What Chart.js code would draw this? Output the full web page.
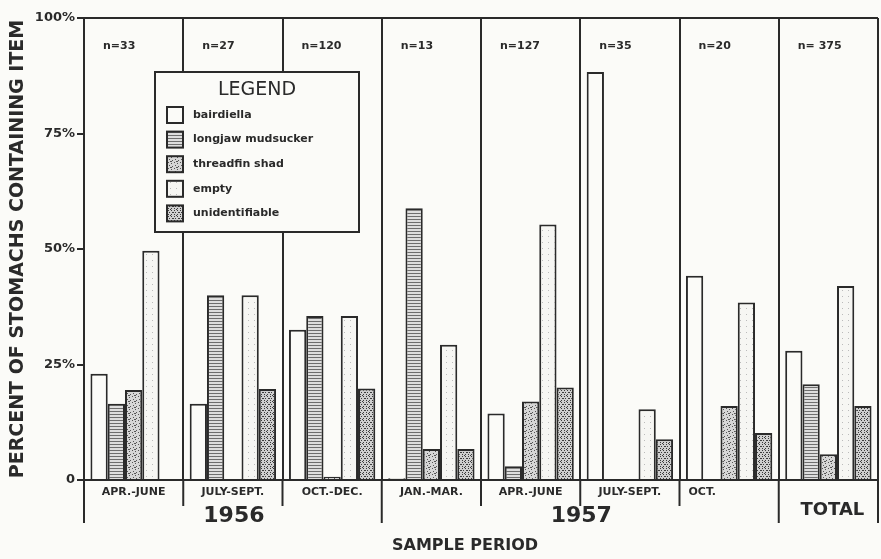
<!DOCTYPE html>
<html>
<head>
<meta charset="utf-8">
<script src="https://cdn.jsdelivr.net/npm/chart.js@4.4.1/dist/chart.umd.min.js"></script>
<style>
  body { margin: 0; background: #fbfbf8; }
  #wrap { width: 881px; height: 559px; }
</style>
</head>
<body>
<div id="wrap"><canvas id="barChart"></canvas></div>
<script>
// Sample periods and stomach counts
const periods = ['APR.-JUNE', 'JULY-SEPT.', 'OCT.-DEC.', 'JAN.-MAR.', 'APR.-JUNE', 'JULY-SEPT.', 'OCT.', ''];
const sampleSizes = ['n=33', 'n=27', 'n=120', 'n=13', 'n=127', 'n=35', 'n=20', 'n= 375'];
const yearLabels = ['1956', '1957', 'TOTAL'];
const yearSpans = [[0, 2], [3, 6], [7, 7]];
const yTicks = [0, 25, 50, 75, 100];

// Percent of stomachs containing each item
const bairdiella = [23, 16.5, 32.5, 0.4, 14.4, 88.3, 44.2, 28];
const longjaw = [16.5, 40, 35.5, 58.8, 3, 0, 0, 20.7];
const threadfin = [19.5, 0, 0.7, 6.7, 17, 0, 16, 5.6];
const empty = [49.6, 40, 35.5, 29.3, 55.3, 15.3, 38.4, 42];
const unidentifiable = [0, 19.7, 19.8, 6.7, 20, 8.8, 10.2, 16];

const ink = '#2a2a2a';
const face = 'DejaVu Sans';

const barctx = document.getElementById('barChart');
const g2d = barctx.getContext('2d');

// small repeating fills to imitate the printed hatching
function makePattern(bg, fg, cells) {
    const c = document.createElement('canvas');
    c.width = 6; c.height = 6;
    const g = c.getContext('2d');
    g.fillStyle = bg;
    g.fillRect(0, 0, 6, 6);
    g.fillStyle = fg;
    cells.forEach(([px, py, w, h]) => g.fillRect(px, py, w || 1, h || 1));
    return g2d.createPattern(c, 'repeat');
}

const fills = {
    bairdiella: '#fbfbf8',
    longjaw: makePattern('#dedede', '#6e6e6e', [[0, 0, 6, 1], [0, 3, 6, 1]]),
    threadfin: makePattern('#d6d6d6', '#555', [[0, 0], [3, 1], [1, 3], [4, 4], [2, 5, 2, 1]]),
    empty: makePattern('#f6f6f3', '#bbb', [[2, 2]]),
    unidentifiable: makePattern('#cfcfcf', '#3c3c3c', [[0, 0], [3, 0], [1, 2], [4, 2, 2, 1], [0, 4], [3, 4], [2, 5]])
};

const series = [
    { label: 'bairdiella', data: bairdiella, backgroundColor: fills.bairdiella },
    { label: 'longjaw mudsucker', data: longjaw, backgroundColor: fills.longjaw },
    { label: 'threadfin shad', data: threadfin, backgroundColor: fills.threadfin },
    { label: 'empty', data: empty, backgroundColor: fills.empty },
    { label: 'unidentifiable', data: unidentifiable, backgroundColor: fills.unidentifiable }
];

// labels, dividers and the boxed legend drawn around the plot
const decorations = {
    id: 'decorations',
    afterDatasetsDraw(chart) {
        const { ctx, chartArea: a, scales: { x } } = chart;
        const step = x.getPixelForValue(1) - x.getPixelForValue(0);
        const edge = i => x.getPixelForValue(i) - step / 2;
        ctx.save();
        ctx.strokeStyle = ink;
        ctx.fillStyle = ink;
        ctx.lineWidth = 2;

        // top frame line
        ctx.beginPath();
        ctx.moveTo(a.left, a.top);
        ctx.lineTo(a.right, a.top);
        ctx.stroke();

        // dividers continued below the baseline
        const yearEdges = [0, 3, 7, 8];
        for (let i = 0; i <= periods.length; i++) {
            const long = yearEdges.includes(i);
            ctx.beginPath();
            ctx.moveTo(edge(i), a.bottom);
            ctx.lineTo(edge(i), a.bottom + (long ? 43 : 26));
            ctx.stroke();
        }

        // period names
        ctx.font = 'bold 11px "' + face + '"';
        ctx.textBaseline = 'middle';
        periods.forEach((p, i) => {
            if (p.length < 5) {
                ctx.textAlign = 'left';
                ctx.fillText(p, edge(i) + 9, a.bottom + 12);
            } else {
                ctx.textAlign = 'center';
                ctx.fillText(p, x.getPixelForValue(i), a.bottom + 12);
            }
        });

        // sample sizes
        ctx.textAlign = 'left';
        sampleSizes.forEach((n, i) => ctx.fillText(n, edge(i) + 19, a.top + 28));

        // years and total
        ctx.textAlign = 'center';
        yearLabels.forEach((t, k) => {
            const [s, e] = yearSpans[k];
            const cx = (edge(s) + edge(e + 1)) / 2;
            const isTotal = t === 'TOTAL';
            ctx.font = 'bold ' + (isTotal ? 18 : 22) + 'px "' + face + '"';
            ctx.fillText(t, cx + (isTotal ? 4 : 1), a.bottom + (isTotal ? 30 : 36));
        });

        ctx.font = 'bold 16px "' + face + '"';
        ctx.fillText('SAMPLE PERIOD', a.left + 381, a.bottom + 66);

        // legend box
        const lx = a.left + 71, ly = a.top + 54, lw = 204, lh = 160;
        ctx.fillStyle = '#fbfbf8';
        ctx.fillRect(lx, ly, lw, lh);
        ctx.strokeRect(lx, ly, lw, lh);
        ctx.fillStyle = ink;
        ctx.font = '19px "' + face + '"';
        ctx.textAlign = 'center';
        ctx.fillText('LEGEND', lx + 102, ly + 18);
        ctx.font = 'bold 11px "' + face + '"';
        ctx.textAlign = 'left';
        chart.data.datasets.forEach((ds, i) => {
            const ry = ly + 43 + i * 24.6;
            ctx.fillStyle = ds.backgroundColor;
            ctx.fillRect(lx + 12, ry - 8, 16, 16);
            ctx.strokeRect(lx + 12, ry - 8, 16, 16);
            ctx.fillStyle = ink;
            ctx.fillText(ds.label, lx + 38, ry);
        });
        ctx.restore();
    }
};

new Chart(barctx, {
    type: 'bar',
    data: {
        labels: periods,
        datasets: series.map(s => ({
            ...s,
            borderColor: ink,
            borderWidth: 2,
            borderSkipped: 'bottom',
            categoryPercentage: 0.87,
            barPercentage: 1.0
        }))
    },
    options: {
        responsive: true,
        maintainAspectRatio: false,
        animation: false,
        layout: { padding: { top: 18, right: 3, left: 0, bottom: 0 } },
        plugins: {
            legend: { display: false },
            tooltip: { enabled: false }
        },
        scales: {
            x: {
                afterFit(s) { s.height = 79; },
                ticks: { display: false },
                grid: { color: ink, lineWidth: 2, drawTicks: false, offset: true },
                border: { color: ink, width: 2 }
            },
            y: {
                min: 0,
                max: 100,
                afterFit(s) { s.width = 84; },
                afterBuildTicks(s) { s.ticks = yTicks.map(v => ({ value: v })); },
                ticks: {
                    color: ink,
                    padding: 2,
                    font: { family: face, size: 13, weight: 'bold' },
                    callback: v => v === 0 ? '0' : v + '%'
                },
                grid: { drawOnChartArea: false, drawTicks: true, tickLength: 7, color: ink, lineWidth: 2 },
                border: { color: ink, width: 2 },
                title: {
                    display: true,
                    text: 'PERCENT OF STOMACHS CONTAINING ITEM',
                    color: ink,
                    padding: { top: 7, bottom: 0 },
                    font: { family: face, size: 19, weight: 'bold' }
                }
            }
        }
    },
    plugins: [decorations]
});
</script>
</body>
</html>
